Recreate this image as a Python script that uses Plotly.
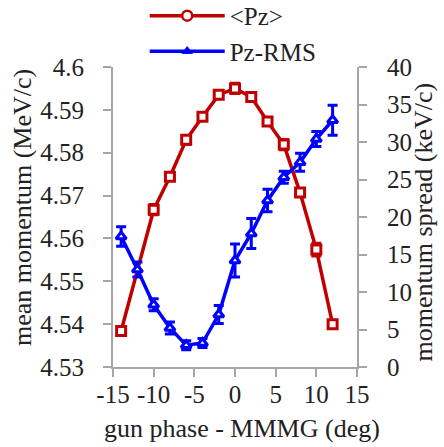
import plotly.graph_objects as go

# gun phase scan (deg)
phase = [-14, -10, -8, -6, -4, -2, 0, 2, 4, 6, 8, 10, 12]
pz_mean = [4.5384, 4.5667, 4.5744, 4.5830, 4.5884, 4.5935, 4.5950, 4.5930, 4.5873, 4.5819, 4.5707, 4.5574, 4.5400]
pz_mean_err = [0.0008, 0.0012, 0.0008, 0.0010, 0.0008, 0.0008, 0.0012, 0.0008, 0.0008, 0.0012, 0.0008, 0.0015, 0.0008]

phase_rms = [-14, -12, -10, -8, -6, -4, -2, 0, 2, 4, 6, 8, 10, 12]
pz_rms = [17.4, 13.0, 8.3, 5.2, 2.9, 3.2, 7.0, 14.2, 17.8, 22.2, 25.3, 27.3, 30.4, 32.9]
pz_rms_err = [1.3, 1.0, 0.8, 0.8, 0.6, 0.6, 1.2, 2.2, 2.0, 1.5, 0.8, 1.2, 1.0, 2.0]

x_ticks = [-15, -10, -5, 0, 5, 10, 15]
x_ticktext = ["-15", "-10", "-5", "0", "5", "10", "15"]
y1_ticks = [4.53, 4.54, 4.55, 4.56, 4.57, 4.58, 4.59, 4.60]
y1_ticktext = ["4.53", "4.54", "4.55", "4.56", "4.57", "4.58", "4.59", "4.6"]
y2_ticks = [0, 5, 10, 15, 20, 25, 30, 35, 40]

RED = "#c00000"
BLUE = "#0000ff"
AXIS = "#a6a6a6"
FONT = "Liberation Serif, Times New Roman, serif"

fig = go.Figure()

fig.add_trace(go.Scatter(
    x=phase, y=pz_mean, mode="lines+markers", showlegend=False,
    line=dict(color=RED, width=3.5),
    marker=dict(symbol="square", size=9, color="white", line=dict(color=RED, width=3)),
    error_y=dict(type="data", array=pz_mean_err, color=RED, thickness=3, width=5),
    yaxis="y",
))
fig.add_trace(go.Scatter(
    x=phase_rms, y=pz_rms, mode="lines+markers", showlegend=False,
    line=dict(color=BLUE, width=3.5),
    marker=dict(symbol="triangle-up", size=9, color="white", line=dict(color=BLUE, width=3)),
    error_y=dict(type="data", array=pz_rms_err, color=BLUE, thickness=3, width=5),
    yaxis="y2",
))

# legend entries
fig.add_trace(go.Scatter(
    x=[None], y=[None], mode="lines+markers", name="&lt;Pz&gt;", legendgroup="a",
    line=dict(color=RED, width=3.5),
    marker=dict(symbol="circle", size=10, color="white", line=dict(color=RED, width=2.5)),
))
fig.add_trace(go.Scatter(
    x=[None], y=[None], mode="lines+markers", name="Pz-RMS", legendgroup="b",
    line=dict(color=BLUE, width=3.5),
    marker=dict(symbol="triangle-up", size=9, color=BLUE, line=dict(color=BLUE, width=1)),
    yaxis="y2",
))

axis_common = dict(
    showline=True, linecolor=AXIS, linewidth=2, ticks="outside", tickcolor=AXIS,
    ticklen=8, tickwidth=2, showgrid=False, zeroline=False,
    tickfont=dict(family=FONT, size=25, color="#222222"),
)

fig.update_layout(
    width=444, height=447,
    margin=dict(l=113, r=87, t=67, b=80, autoexpand=False),
    paper_bgcolor="white", plot_bgcolor="white",
    font=dict(family=FONT, size=25, color="#222222"),
    xaxis=dict(range=[-15, 15], tickvals=x_ticks, ticktext=x_ticktext, tickangle=0,
               ticklabelstandoff=-4, **axis_common),
    yaxis=dict(range=[4.53, 4.60], tickvals=y1_ticks, ticktext=y1_ticktext,
               ticklabelstandoff=14, **axis_common),
    yaxis2=dict(range=[0, 40], tickvals=y2_ticks, overlaying="y",
                side="right", ticklabelstandoff=15, **axis_common),
    showlegend=True,
    legend=dict(x=0.13, y=1.247, xanchor="left", yanchor="top",
                bgcolor="rgba(0,0,0,0)",
                font=dict(family=FONT, size=25, color="#222222"), itemwidth=75,
                tracegroupgap=0),
    annotations=[
        dict(text="mean momentum (MeV/c)", xref="paper", yref="paper", x=-0.373, y=0.533,
             textangle=-90, showarrow=False, xanchor="center", yanchor="middle",
             font=dict(family=FONT, size=26, color="#222222")),
        dict(text="momentum spread (keV/c)", xref="paper", yref="paper", x=1.272, y=0.483,
             textangle=-90, showarrow=False, xanchor="center", yanchor="middle",
             font=dict(family=FONT, size=26, color="#222222")),
        dict(text="gun phase - MMMG (deg)", xref="paper", yref="paper", x=0.529, y=-0.205,
             showarrow=False, xanchor="center", yanchor="middle",
             font=dict(family=FONT, size=26, color="#222222")),
    ],
)

fig.write_html("out.html")
